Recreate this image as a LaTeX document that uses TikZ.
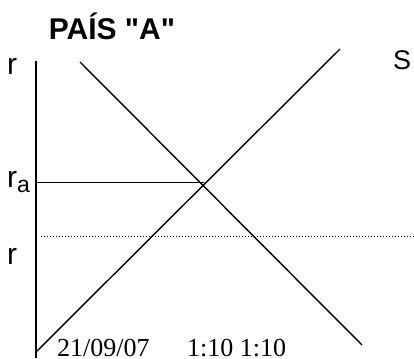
\documentclass[tikz,border=0pt]{standalone}
\usepackage{fontspec}
\setmainfont{Liberation Serif}
\setsansfont{Liberation Sans}
\newfontfamily\titlefont{Liberation Sans}[Ligatures=TeXOff]
\begin{document}
\begin{tikzpicture}[x=1pt,y=-1pt,
  curve/.style={line width=1.4pt,black},
  lbl/.style={inner sep=0pt,anchor=base west,font=\sffamily\fontsize{30}{30}\selectfont},
  datetxt/.style={inner sep=0pt,anchor=base west,font=\rmfamily\fontsize{26}{26}\selectfont}]
\useasboundingbox (0,0) rectangle (414,358);
% axis
\coordinate (axtop) at (36,61);
\coordinate (axbot) at (36,358);
\draw[curve] (axtop) -- (axbot);
% supply and demand
\coordinate (s0) at (36,352);
\coordinate (s1) at (340,49);
\coordinate (d0) at (80,62);
\coordinate (d1) at (362,345);
\draw[curve] (s0) -- (s1);
\draw[curve] (d0) -- (d1);
% ra line
\coordinate (ra0) at (36,182.5);
\coordinate (ra1) at (204,182.5);
\draw[curve] (ra0) -- (ra1);
% dotted line
\coordinate (dt0) at (41,236);
\coordinate (dt1) at (414,236);
\draw[line width=1pt,dash pattern=on 1pt off 2pt] (dt0) -- (dt1);
% labels
\node[inner sep=0pt,anchor=base,font=\titlefont\bfseries\fontsize{30}{30}\selectfont] (title) at (112,40) {PAÍS "A"};
\node[lbl] (rtop) at (7,75) {r};
\node[lbl,font=\sffamily\fontsize{27}{27}\selectfont] (S) at (393,70) {S};
\node[lbl] (ra) at (7,187) {r\raisebox{-5pt}{\fontsize{23}{23}\selectfont a}};
\node[lbl] (rlow) at (7,264) {r};
\node[datetxt] (date) at (57,356.5) {21/09/07};
\node[datetxt] (time) at (187,356.5) {1:10 1:10};
\end{tikzpicture}
\end{document}
